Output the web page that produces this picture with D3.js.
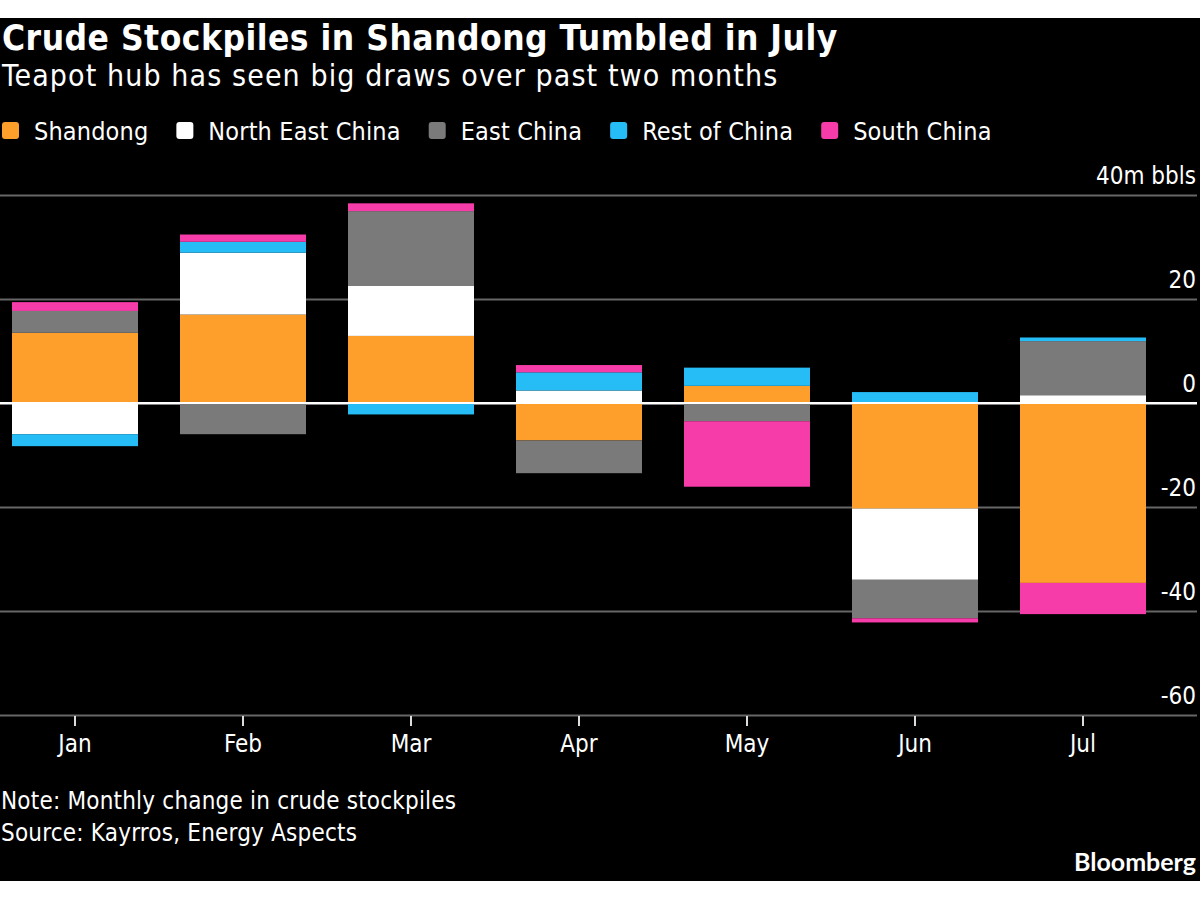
<!DOCTYPE html>
<html>
<head>
<meta charset="utf-8">
<script src="https://cdn.jsdelivr.net/npm/d3@7"></script>
<style>
  body { margin: 0; background: #fff; }
  text { font-family: "DejaVu Sans Condensed", "DejaVu Sans", sans-serif; fill: #fff; }
</style>
</head>
<body>
<div id="vis"></div>
<script>
// chart data, million barrels, monthly change
const MONTHS = ["Jan", "Feb", "Mar", "Apr", "May", "Jun", "Jul"];
const SERIES = ["Shandong", "North East China", "East China", "Rest of China", "South China"];
const SHANDONG = [13.5, 17.0, 12.9, -7.2, 3.3, -20.3, -34.6];
const NORTH_EAST = [-6.0, 11.9, 9.6, 2.4, 0, -13.7, 1.5];
const EAST_CHINA = [4.2, -6.0, 14.4, -6.3, -3.5, -7.4, 10.4];
const REST_OF_CHINA = [-2.3, 2.1, -2.2, 3.5, 3.5, 2.1, 0.7];
const SOUTH_CHINA = [1.7, 1.4, 1.5, 1.4, -12.6, -0.8, -6.0];
const Y_TICKS = [-60, -40, -20, 0, 20, 40];

const COLORS = ["#fe9f2b", "#ffffff", "#7a7a7a", "#26bcf6", "#f63ca8"];

const WIDTH = 1200;
const HEIGHT = 900;

const svg = d3.select("#vis")
              .append("svg")
                .attr("width", WIDTH)
                .attr("height", HEIGHT);

// black panel
svg.append("rect")
    .attr("x", 0)
    .attr("y", 18)
    .attr("width", WIDTH)
    .attr("height", 863)
    .attr("fill", "#000");

// rows for the stack
const rows = MONTHS.map((m, i) => ({
  month: m,
  "Shandong": SHANDONG[i],
  "North East China": NORTH_EAST[i],
  "East China": EAST_CHINA[i],
  "Rest of China": REST_OF_CHINA[i],
  "South China": SOUTH_CHINA[i]
}));

const stacked = d3.stack()
                  .keys(SERIES)
                  .offset(d3.stackOffsetDiverging)(rows);

const X_SCALE = d3.scaleBand()
                  .domain(MONTHS)
                  .range([12, 1146])
                  .paddingInner(0.25)
                  .paddingOuter(0);

const Y_SCALE = d3.scaleLinear()
                  .domain([-60, 40])
                  .range([715, 195]);

// titles
svg.append("text")
    .attr("x", 2).attr("y", 50)
    .style("font-size", "35px")
    .style("font-weight", "bold")
    .style("letter-spacing", "0.5px")
    .text("Crude Stockpiles in Shandong Tumbled in July");

svg.append("text")
    .attr("x", 2).attr("y", 86)
    .style("font-size", "30px")
    .style("letter-spacing", "1.1px")
    .text("Teapot hub has seen big draws over past two months");

// legend
let lx = 2;
SERIES.forEach((s, i) => {
  svg.append("rect")
      .attr("x", lx).attr("y", 122)
      .attr("width", 17).attr("height", 17)
      .attr("rx", 3)
      .attr("fill", COLORS[i]);
  const t = svg.append("text")
      .attr("x", lx + 32).attr("y", 140)
      .style("font-size", "25px")
      .style("letter-spacing", "0.15px")
      .text(s);
  lx = lx + 32 + t.node().getComputedTextLength() + 28;
});

// y axis with gridlines
const yAxis = svg.append("g")
    .attr("transform", "translate(1197,0)")
    .call(d3.axisLeft(Y_SCALE)
            .tickValues(Y_TICKS)
            .tickSize(1197)
            .tickFormat((d) => d == 40 ? "40m bbls" : d));

yAxis.select(".domain").remove();
yAxis.selectAll(".tick line")
    .attr("stroke", (d) => d == 0 ? "#fff" : "#666")
    .attr("stroke-width", 2);
yAxis.selectAll(".tick text")
    .attr("x", -1)
    .attr("dy", -12)
    .attr("text-anchor", "end")
    .attr("fill", "#fff")
    .style("font-size", "24px");

// bars
svg.append("g")
  .selectAll("g")
  .data(stacked)
  .enter()
  .append("g")
    .attr("fill", (d, i) => COLORS[i])
  .selectAll("rect")
  .data((d) => d)
  .enter()
  .append("rect")
    .attr("x", (d) => X_SCALE(d.data.month))
    .attr("y", (d) => Y_SCALE(d[1]))
    .attr("width", X_SCALE.bandwidth())
    .attr("height", (d) => Y_SCALE(d[0]) - Y_SCALE(d[1]));

// zero line over the bars
svg.append("line")
    .attr("x1", 0).attr("x2", 1197)
    .attr("y1", Y_SCALE(0)).attr("y2", Y_SCALE(0))
    .attr("stroke", "#fff")
    .attr("stroke-width", 2);

// x axis
const xAxis = svg.append("g")
    .attr("transform", "translate(0," + (Y_SCALE(-60) + 1) + ")")
    .call(d3.axisBottom(X_SCALE).tickSize(10));

xAxis.select(".domain").remove();
xAxis.selectAll(".tick line")
    .attr("stroke", "#ddd")
    .attr("stroke-width", 2);
xAxis.selectAll(".tick text")
    .attr("y", 36)
    .attr("dy", 0)
    .attr("fill", "#fff")
    .style("font-size", "24px");

// notes
svg.append("text")
    .attr("x", 1).attr("y", 809)
    .style("font-size", "24px")
    .style("letter-spacing", "0.2px")
    .text("Note: Monthly change in crude stockpiles");

svg.append("text")
    .attr("x", 1).attr("y", 841)
    .style("font-size", "24px")
    .style("letter-spacing", "0.2px")
    .text("Source: Kayrros, Energy Aspects");

svg.append("text")
    .attr("x", 1196).attr("y", 871)
    .attr("text-anchor", "end")
    .style("font-size", "25px")
    .style("font-weight", "bold")
    .style("font-family", "Lato, sans-serif")
    .text("Bloomberg");
</script>
</body>
</html>
